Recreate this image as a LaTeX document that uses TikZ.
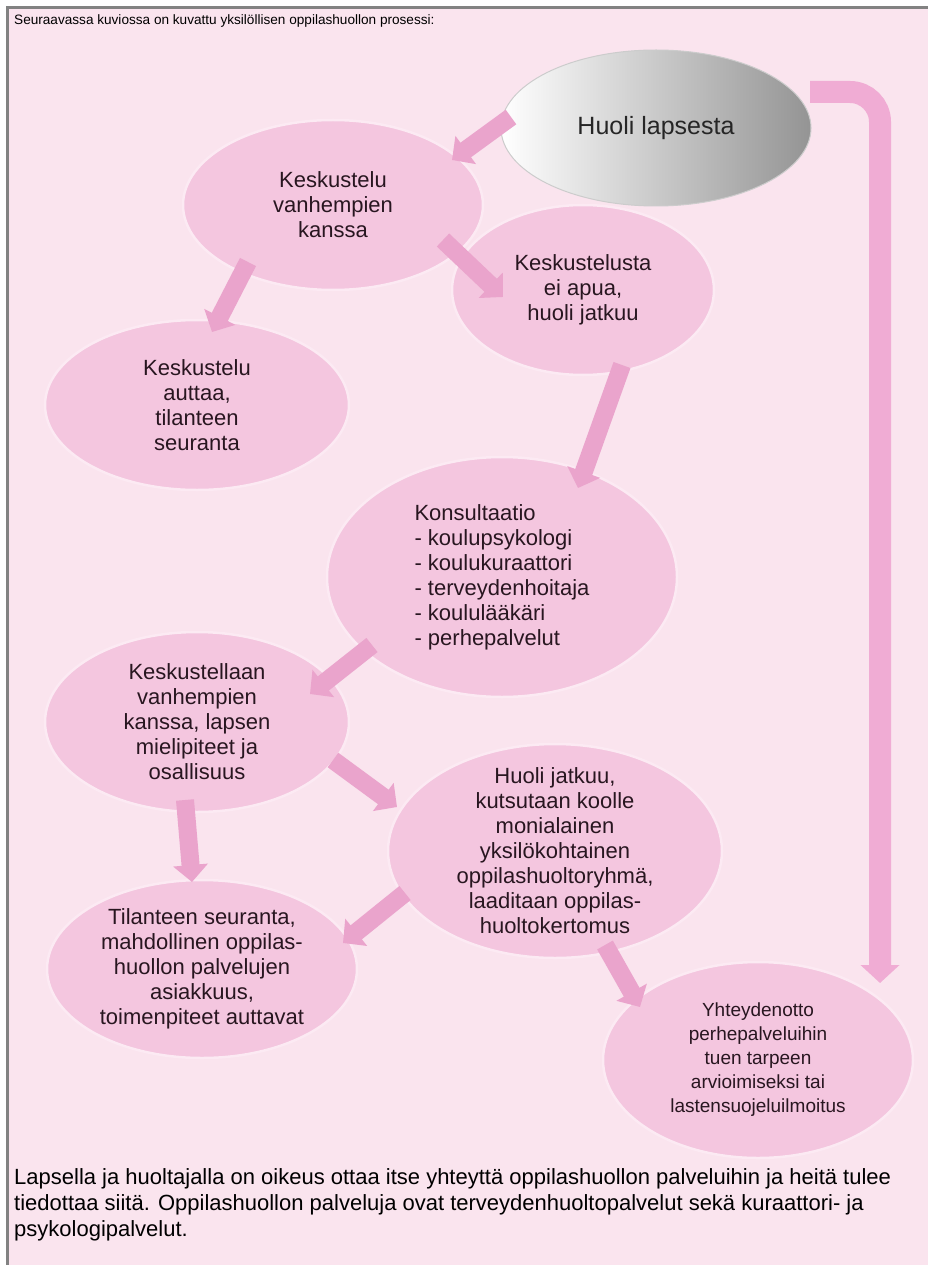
\documentclass[tikz,border=0pt]{standalone}
\usepackage{fontspec}
\setmainfont{Liberation Sans}
\usetikzlibrary{shapes.geometric, arrows.meta, positioning, calc}
\definecolor{bgpink}{RGB}{250,228,238}
\definecolor{bubblepink}{RGB}{244,198,223}
\definecolor{bubblerim}{RGB}{252,234,243}
\definecolor{arrowpink}{RGB}{234,164,204}
\definecolor{bracketpink}{RGB}{240,172,212}
\definecolor{textdark}{RGB}{40,22,32}
\definecolor{framegray}{RGB}{130,130,130}

\begin{document}
\begin{tikzpicture}[x=1pt, y=-1pt,
  bubble/.style={ellipse, fill=bubblepink, draw=bubblerim, line width=2.5pt,
    align=center, inner sep=-15pt, text=textdark, font=\fontsize{22}{25}\selectfont},
  blockarrow/.style={line width=18pt, draw=arrowpink, -{Triangle[width=34pt, length=17pt]}}]

  \useasboundingbox (0,0) rectangle (928,1265);

  % Page
  \fill[white] (0,0) rectangle (928,1265);
  \fill[bgpink] (7,8) rectangle (928,1265);
  \draw[framegray, line width=3pt] (7,1265) -- (7,8) -- (928,8);

  % Intro
  \node[font=\fontsize{13.6}{17}\selectfont, anchor=west, inner sep=0pt] (intro) at (14,21)
    {Seuraavassa kuviossa on kuvattu yksilöllisen oppilashuollon prosessi:};

  % Start
  \node[ellipse, minimum width=310pt, minimum height=156pt, inner sep=0pt,
    left color=white, right color=black!42, draw=black!20, line width=1pt,
    font=\fontsize{25}{30}\selectfont, text=black!85] (huoli) at (656,128) {Huoli lapsesta};

  % Process bubbles
  \node[bubble, minimum width=300pt, minimum height=170pt] (kesk) at (333,205)
    {Keskustelu\\vanhempien\\kanssa};
  \node[bubble, minimum width=304pt, minimum height=170pt] (auttaa) at (197,405)
    {Keskustelu\\auttaa,\\tilanteen\\seuranta};
  \node[bubble, minimum width=262pt, minimum height=170pt] (eiapua) at (583,290)
    {Keskustelusta\\ei apua,\\huoli jatkuu};
  \node[bubble, minimum width=350pt, minimum height=240pt, align=left] (konsult) at (502,577)
    {Konsultaatio\\- koulupsykologi\\- koulukuraattori\\- terveydenhoitaja\\- koululääkäri\\- perhepalvelut};
  \node[bubble, minimum width=304pt, minimum height=180pt] (keskust) at (197,722)
    {Keskustellaan\\vanhempien\\kanssa, lapsen\\mielipiteet ja\\osallisuus};
  \node[bubble, minimum width=334pt, minimum height=214pt] (jatkuu) at (555,851)
    {Huoli jatkuu,\\kutsutaan koolle\\monialainen\\yksilökohtainen\\oppilashuoltoryhmä,\\laaditaan oppilas-\\huoltokertomus};
  \node[bubble, minimum width=310pt, minimum height=178pt] (seuranta) at (202,969)
    {Tilanteen seuranta,\\mahdollinen oppilas-\\huollon palvelujen\\asiakkuus,\\toimenpiteet auttavat};
  \node[bubble, minimum width=310pt, minimum height=196pt, font=\fontsize{19}{24}\selectfont] (yhteys) at (758,1060)
    {Yhteydenotto\\perhepalveluihin\\tuen tarpeen\\arvioimiseksi tai\\lastensuojeluilmoitus};

  % Arrows
  \draw[blockarrow] ($(huoli)+(-145,-11)$) -- ($(kesk)+(119,-45)$);
  \draw[blockarrow] ($(kesk)+(-85,57)$) -- ($(auttaa)+(15,-73)$);
  \draw[blockarrow] ($(kesk)+(110,35)$) -- ($(eiapua)+(-80,7)$);
  \draw[blockarrow] ($(eiapua)+(39,75)$) -- ($(konsult)+(76,-89)$);
  \draw[blockarrow] ($(konsult)+(-130,68)$) -- ($(keskust)+(113,-28)$);
  \draw[blockarrow] ($(keskust)+(136,38)$) -- ($(jatkuu)+(-158,-44)$);
  \draw[blockarrow] ($(keskust)+(-12,78)$) -- ($(seuranta)+(-10,-87)$);
  \draw[blockarrow] ($(jatkuu)+(-150,42)$) -- ($(seuranta)+(141,-26)$);
  \draw[blockarrow] ($(jatkuu)+(50,94)$) -- ($(yhteys)+(-118,-53)$);
  \draw[line width=22pt, draw=bracketpink, rounded corners=30pt, -{Triangle[width=38pt, length=18pt]}]
    ($(huoli)+(154,-36)$) -| ($(yhteys)+(122,-77)$);

  % Note
  \node[font=\fontsize{22}{26}\selectfont, anchor=north west, align=left, inner sep=0pt] (note) at (14,1168)
    {Lapsella ja huoltajalla on oikeus ottaa itse yhteyttä oppilashuollon palveluihin ja heitä tulee\\
     tiedottaa siitä. Oppilashuollon palveluja ovat terveydenhuoltopalvelut sekä kuraattori- ja\\
     psykologipalvelut.};
\end{tikzpicture}
\end{document}
